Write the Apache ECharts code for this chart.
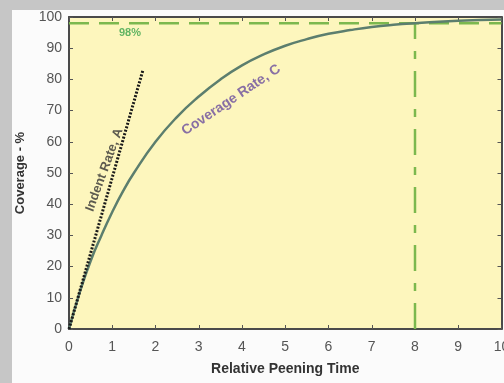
<!DOCTYPE html>
<html><head><meta charset="utf-8">
<script src="https://cdn.jsdelivr.net/npm/echarts@6/dist/echarts.min.js"></script>
<style>
html,body{margin:0;padding:0;width:504px;height:383px;background:#c6c6c6;overflow:hidden;}
#chart{position:absolute;left:12px;top:10px;width:492px;height:373px;background:#fbfbfb;}
</style></head>
<body><div id="chart"></div>
<script>
// Data
const timeTicks = [0,1,2,3,4,5,6,7,8,9,10];
const coverageTime = [0, 0.25, 0.5, 0.75, 1, 1.25, 1.5, 2, 2.5, 3, 3.5, 4, 4.5, 5, 5.5, 6, 6.5, 7, 7.5, 8, 9, 10];
const coverageValues = [0, 11.8, 21.8, 30, 37.5, 44.2, 50, 60, 68, 74.5, 80, 84.5, 88, 90.8, 92.9, 94.6, 95.8, 96.8, 97.5, 98, 98.8, 99.2];
const indentTime = [0, 1.71];
const indentValues = [0, 83];
const fullCoverageLevel = 98;
const fullCoverageTime = 8;
const axisTitleX = 'Relative Peening Time';
const axisTitleY = 'Coverage - %';

const chart = echarts.init(document.getElementById('chart'));
const coverage = coverageTime.map((t,i)=>[t, coverageValues[i]]);
const indent = indentTime.map((t,i)=>[t, indentValues[i]]);
const labelFont = 'Liberation Sans, Arial, sans-serif';

function textPoint(pt, text, color, size, rot){
  return {type:'scatter', data:[pt], symbolSize:0, silent:true, z:10,
    label:{show:true, position:'inside', formatter:text, color:color, fontSize:size, fontWeight:'bold', fontFamily:labelFont, rotate:rot}};
}
const axCommon = {
  min:0, axisLine:{show:true, onZero:false, lineStyle:{color:'#4a4a4a', width:2}},
  axisTick:{show:true, inside:true, length:4, lineStyle:{color:'#555'}},
  splitLine:{show:false}
};
chart.setOption({
  animation:false,
  grid:{left:57, right:2.5, top:7, bottom:54, containLabel:false, outerBoundsMode:'none',
    show:true, backgroundColor:'#fdf6bd', borderWidth:0},
  xAxis:[
    Object.assign({}, axCommon, {type:'value', max:10, interval:1, position:'bottom',
      axisLabel:{color:'#555', fontSize:14, fontFamily:labelFont, margin:11, formatter:v=>timeTicks.includes(v)?String(v):''},
      name:axisTitleX, nameLocation:'middle', nameGap:33,
      nameTextStyle:{color:'#333', fontSize:14, fontWeight:'bold', fontFamily:labelFont}}),
    Object.assign({}, axCommon, {type:'value', max:10, interval:1, position:'top', axisLabel:{show:false}})
  ],
  yAxis:[
    Object.assign({}, axCommon, {type:'value', max:100, interval:10, position:'left',
      axisLabel:{color:'#555', fontSize:14, fontFamily:labelFont, margin:7},
      name:axisTitleY, nameLocation:'middle', nameGap:42,
      nameTextStyle:{color:'#333', fontSize:13, fontWeight:'bold', fontFamily:labelFont}}),
    Object.assign({}, axCommon, {type:'value', max:100, interval:10, position:'right', axisLabel:{show:false}})
  ],
  series:[
    {type:'line', data:[[0,fullCoverageLevel],[10,fullCoverageLevel]], symbol:'none',
      lineStyle:{color:'#7cb84e', width:2.5, type:[20,10]}, z:3},
    {type:'line', data:[[fullCoverageTime,0],[fullCoverageTime,fullCoverageLevel]], symbol:'none',
      lineStyle:{color:'#7cb84e', width:2.5, type:[26,12,8,12]}, z:3},
    {type:'line', data:coverage, smooth:true, symbol:'none',
      lineStyle:{color:'#5c7e6e', width:2.5}, z:4},
    {type:'line', data:indent, symbol:'none',
      lineStyle:{color:'#1a1a1a', width:3, type:[2,1.6]}, z:5},
    textPoint([1.41, 95.0], '98%', '#3aa44c', 11, 0),
    textPoint([3.75, 73.4], 'Coverage Rate, C', '#6a4d9e', 14, 34),
    textPoint([0.82, 51], 'Indent Rate, A', '#333', 13, 70)
  ]
});
</script></body></html>
